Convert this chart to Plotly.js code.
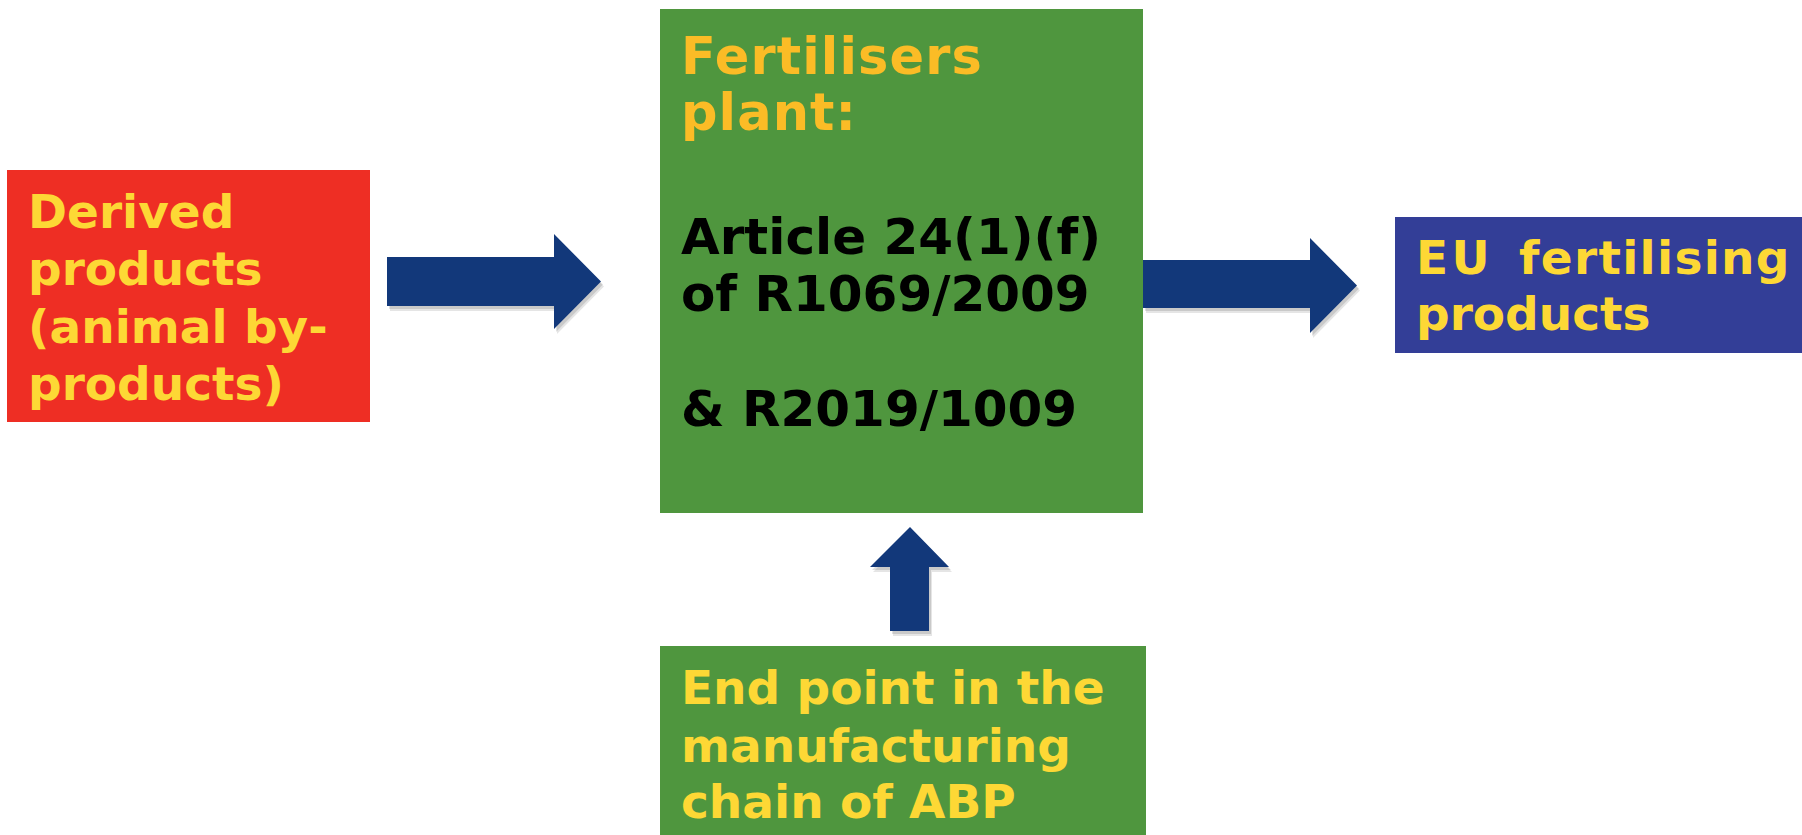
<!DOCTYPE html>
<html>
<head>
<meta charset="utf-8">
<script src="https://cdn.plot.ly/plotly-3.0.1.min.js"></script>
<style>html,body{margin:0;padding:0;background:#fff;}#chart{width:1802px;height:835px;}</style>
</head>
<body>
<div id="chart"></div>
<script>
// ---- content ----
const sourceLines = ["Derived", "products", "(animal by-", "products)"];
const plantTitleLines = ["Fertilisers", "plant:"];
const plantLawLines = ["Article 24(1)(f)", "of R1069/2009", "& R2019/1009"];
const outputWords = ["EU", "fertilising"];
const outputLines = ["products"];
const endPointLines = ["End point in the", "manufacturing", "chain of ABP"];

// ---- layout geometry (pixels) ----
const W = 1802, H = 835;
const boxes = [
  {x0: 7,    x1: 370,  y0: 170, y1: 422, fill: "#EE2E24"},
  {x0: 660,  x1: 1143, y0: 9,   y1: 513, fill: "#4F963E"},
  {x0: 1395, x1: 1802, y0: 217, y1: 353, fill: "#333E97"},
  {x0: 660,  x1: 1146, y0: 646, y1: 835, fill: "#4F963E"}
];
const arrowColor = "#12387A";
function rightArrow(x0, xh, x1, sy0, sy1, hy0, hy1) {
  const ty = (hy0 + hy1) / 2;
  return `M${x0},${sy0} L${xh},${sy0} L${xh},${hy0} L${x1},${ty} L${xh},${hy1} L${xh},${sy1} L${x0},${sy1} Z`;
}
function upArrow(cx, ty, hy, hx0, hx1, sx0, sx1, by) {
  return `M${cx},${ty} L${hx1},${hy} L${sx1},${hy} L${sx1},${by} L${sx0},${by} L${sx0},${hy} L${hx0},${hy} Z`;
}
function shift(path, dx, dy) {
  return path.replace(/(-?\d+\.?\d*),(-?\d+\.?\d*)/g, (m, a, b) => `${(+a + dx)},${(+b + dy)}`);
}
const arrows = [
  rightArrow(387, 554, 601, 257, 306, 234, 329),
  rightArrow(1143, 1310, 1357, 260, 308, 238, 333),
  upArrow(910, 527, 567, 870, 949, 890, 929, 631)
];

const shapes = [];
boxes.forEach(b => shapes.push({type: "rect", xref: "x", yref: "y", x0: b.x0, x1: b.x1, y0: b.y0, y1: b.y1,
  fillcolor: b.fill, line: {width: 0}, layer: "below"}));
arrows.forEach(p => {
  shapes.push({type: "path", xref: "x", yref: "y", path: shift(p, 3, 5), fillcolor: "rgba(0,0,0,0.10)", line: {width: 0}});
  shapes.push({type: "path", xref: "x", yref: "y", path: shift(p, 2, 3), fillcolor: "rgba(0,0,0,0.12)", line: {width: 0}});
  shapes.push({type: "path", xref: "x", yref: "y", path: p, fillcolor: arrowColor, line: {width: 0}});
});

const FONT = "DejaVu Sans, Verdana, sans-serif";
const annotations = [];
function addLines(lines, x, baselines, size, color, spacing) {
  lines.forEach((t, i) => {
    const inner = spacing ? `<span style="letter-spacing:${spacing}px">${t}</span>` : t;
    annotations.push({x: x, y: baselines[i] - 0.35 * size, xref: "x", yref: "y", text: "<b>" + inner + "</b>",
      showarrow: false, xanchor: "left", yanchor: "middle",
      font: {family: FONT, size: size, color: color}});
  });
}
addLines(sourceLines, 26, [228, 285, 343, 400], 47, "#FDD835");
addLines(plantTitleLines, 679, [74, 130], 51, "#FBBC26", 1.1);
addLines(plantLawLines, 679, [254, 311, 426], 50, "#000000");
addLines([outputWords[0]], 1414, [274], 47, "#FDD835", 3.5);
addLines([outputWords[1]], 1517, [274], 47, "#FDD835", 1.3);
addLines(outputLines, 1414, [330], 47, "#FDD835");
addLines(endPointLines, 679, [704, 762, 818], 47, "#FDD835");

const layout = {
  width: W, height: H,
  margin: {l: 0, r: 0, t: 0, b: 0, pad: 0},
  paper_bgcolor: "#ffffff", plot_bgcolor: "#ffffff",
  xaxis: {range: [0, W], visible: false, fixedrange: true},
  yaxis: {range: [H, 0], visible: false, fixedrange: true},
  shapes: shapes,
  annotations: annotations,
  showlegend: false
};
Plotly.newPlot("chart", [], layout, {staticPlot: true, displayModeBar: false});
</script>
</body>
</html>
